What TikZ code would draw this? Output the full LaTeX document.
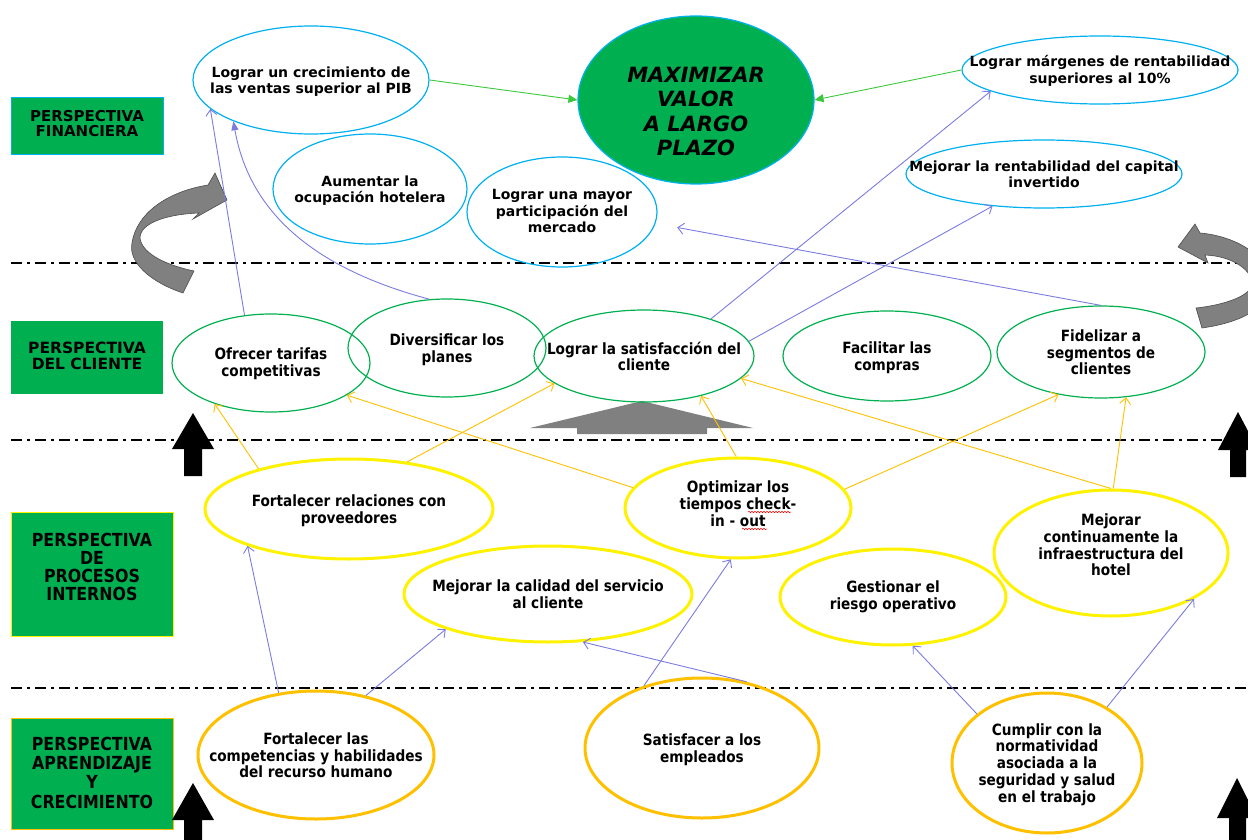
\documentclass[tikz,border=0pt]{standalone}
\usepackage{fontspec}
\setmainfont{DejaVu Sans}
\newfontfamily\widefont{DejaVu Sans}
\newfontfamily\narrowfont{DejaVu Sans}[FakeStretch=0.88]
\usetikzlibrary{arrows.meta,shapes.geometric,decorations.pathmorphing}

\definecolor{boxgreen}{HTML}{00B050}
\definecolor{finblue}{HTML}{00B0F0}
\definecolor{cligreen}{HTML}{00B050}
\definecolor{proyellow}{HTML}{FFF200}
\definecolor{aprorange}{HTML}{FFC000}
\definecolor{linkblue}{HTML}{7B7BE0}
\definecolor{linkorange}{HTML}{FFC000}
\definecolor{linkgreen}{HTML}{3CC83C}
\definecolor{arrowgray}{HTML}{808080}

% text of a goal, centred, with no size of its own (optional arg moves it up)
\newcommand{\goal}[2][-2.5pt]{\raisebox{\dimexpr#1-0.25em\relax}[0pt][0pt]{%
	\makebox[0pt]{\begin{tabular}{@{}c@{}}#2\end{tabular}}}}

\begin{document}
\begin{tikzpicture}[x=1pt,y=-1pt,
	persp/.style={rectangle, fill=boxgreen, inner sep=0pt},
	fin/.style={ellipse, draw=finblue, line width=1.2pt, inner sep=0pt,
		font=\widefont\bfseries\fontsize{14}{16.5}\selectfont},
	cli/.style={ellipse, draw=cligreen, line width=1.2pt, inner sep=0pt,
		font=\narrowfont\bfseries\fontsize{15.5}{16.5}\selectfont},
	pro/.style={ellipse, draw=proyellow, line width=3pt, inner sep=0pt,
		font=\narrowfont\bfseries\fontsize{15.5}{16.8}\selectfont},
	apr/.style={ellipse, draw=aprorange, line width=3pt, inner sep=0pt,
		font=\narrowfont\bfseries\fontsize{15.5}{16.8}\selectfont},
	divider/.style={line width=2.2pt, dash pattern=on 11pt off 5pt on 3pt off 5pt},
	bluelink/.style={draw=linkblue, line width=0.9pt, -{Straight Barb[length=6pt,width=11pt]}},
	orangelink/.style={draw=linkorange, line width=0.9pt, -{Straight Barb[length=6pt,width=11pt]}},
	greenlink/.style={draw=linkgreen, line width=0.9pt, -{Triangle[length=9pt,width=8pt]}},
	bigarrow/.style={fill=arrowgray, draw=black!70, line width=0.6pt},
	spell/.style={red, line width=0.5pt, decorate,
		decoration={snake, amplitude=0.8pt, segment length=3pt}}]
	\useasboundingbox (0,0) rectangle (1248,840);
	\clip (0,0) rectangle (1248,840);
	
	% Dash-dot lines between the perspectives
	\foreach \y in {263,440,688}
		\draw[divider] (11,\y) -- (1248,\y);
	
	% Perspective boxes on the left
	\node[persp, draw=finblue, minimum width=152pt, minimum height=57pt,
		font=\widefont\bfseries\fontsize{15}{15}\selectfont] (pfin) at (87,125.5)
		{\goal[0pt]{PERSPECTIVA\\FINANCIERA}};
	\node[persp, minimum width=152pt, minimum height=73pt,
		font=\widefont\bfseries\fontsize{15.5}{14}\selectfont] (pcli) at (87,357.5)
		{\goal[0pt]{PERSPECTIVA\\DEL CLIENTE}};
	\node[persp, draw=proyellow, minimum width=162pt, minimum height=124pt,
		font=\narrowfont\bfseries\fontsize{18}{16}\selectfont] (ppro) at (92,574)
		{\goal[5pt]{PERSPECTIVA\\DE\\PROCESOS\\INTERNOS}};
	\node[persp, draw=aprorange, minimum width=162pt, minimum height=111pt,
		font=\narrowfont\bfseries\fontsize{18}{19}\selectfont] (papr) at (92,773.5)
		{\goal[-2pt]{PERSPECTIVA\\APRENDIZAJE\\Y\\CRECIMIENTO}};
	
	% Grey block arrows
	\draw[bigarrow] (183,293) .. controls (150,282) and (128,262) .. (132,243)
		.. controls (136,215) and (165,192) .. (208,185) -- (215,173) -- (227,200)
		-- (193,219) -- (199,213) .. controls (170,214) and (140,222) .. (140,238)
		.. controls (142,255) and (170,266) .. (194,271) -- cycle;
	\draw[bigarrow] (1202,328) .. controls (1245,322) and (1272,305) .. (1270,282)
		.. controls (1268,255) and (1235,236) .. (1200,233) -- (1195,224) -- (1178,247)
		-- (1208,263) -- (1205,255) .. controls (1230,256) and (1250,268) .. (1252,282)
		.. controls (1254,295) and (1225,305) .. (1196,308) -- cycle;
	\fill[arrowgray] (530,428) -- (642,401) -- (753,428) -- (707,428) -- (707,434)
		-- (577,434) -- (577,428) -- cycle;
	
	% Black up arrows
	\fill (193,413) -- (214,449) -- (202,449) -- (202,476) -- (184,476) -- (184,449) -- (172,449) -- cycle;
	\fill (193,783) -- (214,820) -- (202,820) -- (202,840) -- (184,840) -- (184,820) -- (172,820) -- cycle;
	\fill (1238,412) -- (1258,450) -- (1246,450) -- (1246,477) -- (1230,477) -- (1230,450) -- (1218,450) -- cycle;
	\fill (1237,778) -- (1257,818) -- (1246,818) -- (1246,840) -- (1229,840) -- (1229,818) -- (1217,818) -- cycle;
	
	% Financial goals
	\node[fin, minimum width=236pt, minimum height=108pt] (ventas) at (311,80)
		{\goal{Lograr un crecimiento de\\las ventas superior al PIB}};
	\node[ellipse, fill=boxgreen, draw=finblue, line width=1.2pt, inner sep=0pt,
		minimum width=236pt, minimum height=168pt,
		font=\widefont\bfseries\itshape\fontsize{21}{24.6}\selectfont] (maximizar) at (696,100)
		{\goal[-14pt]{MAXIMIZAR\\VALOR\\A LARGO\\PLAZO}};
	\node[fin, minimum width=194pt, minimum height=110pt] (ocupacion) at (370,189)
		{\goal{Aumentar la\\ocupación hotelera}};
	\node[fin, minimum width=190pt, minimum height=110pt] (mercado) at (562,212)
		{\goal[-1pt]{Lograr una mayor\\participación del\\mercado}};
	\node[fin, minimum width=276pt, minimum height=68pt] (margenes) at (1100,70)
		{\goal[-2pt]{Lograr márgenes de rentabilidad\\superiores al 10\%}};
	\node[fin, minimum width=276pt, minimum height=68pt] (capital) at (1044,174)
		{\goal{Mejorar la rentabilidad del capital\\invertido}};
	
	% Customer goals
	\node[cli, minimum width=198pt, minimum height=98pt] (tarifas) at (271,363)
		{\goal[-1pt]{Ofrecer tarifas\\competitivas}};
	\node[cli, minimum width=198pt, minimum height=98pt] (planes) at (447,348)
		{\goal{Diversificar los\\planes}};
	\node[cli, minimum width=220pt, minimum height=92pt] (satisfaccion) at (644,356)
		{\goal{Lograr la satisfacción del\\cliente}};
	\node[cli, minimum width=208pt, minimum height=90pt] (compras) at (887,356)
		{\goal{Facilitar las\\compras}};
	\node[cli, minimum width=208pt, minimum height=92pt] (fidelizar) at (1101,352)
		{\goal{Fidelizar a\\segmentos de\\clientes}};
	
	% Internal process goals
	\node[pro, minimum width=288pt, minimum height=100pt] (proveedores) at (349,509)
		{\goal[-2pt]{Fortalecer relaciones con\\proveedores}};
	\node[pro, minimum width=226pt, minimum height=100pt] (checkin) at (738,508)
		{\goal[2pt]{Optimizar los\\tiempos check-\\in - out}};
	\node[pro, minimum width=288pt, minimum height=96pt] (calidad) at (548,594)
		{\goal[-2pt]{Mejorar la calidad del servicio\\al cliente}};
	\node[pro, minimum width=226pt, minimum height=96pt] (riesgo) at (893,597)
		{\goal[0pt]{Gestionar el\\riesgo operativo}};
	\node[pro, minimum width=234pt, minimum height=126pt] (infra) at (1111,553)
		{\goal[6pt]{Mejorar\\continuamente la\\infraestructura del\\hotel}};
	
	% Spelling marks under check / out
	\draw[spell] (748,512) -- (791,512);
	\draw[spell] (742,529) -- (767,529);
	
	% Learning and growth goals
	\node[apr, minimum width=236pt, minimum height=128pt] (competencias) at (316,755)
		{\goal{Fortalecer las\\competencias y habilidades\\del recurso humano}};
	\node[apr, minimum width=234pt, minimum height=140pt] (empleados) at (702,748)
		{\goal{Satisfacer a los\\empleados}};
	\node[apr, minimum width=190pt, minimum height=140pt] (normas) at (1047,763)
		{\goal[-2pt]{Cumplir con la\\normatividad\\asociada a la\\seguridad y salud\\en el trabajo}};
	
	% Links towards the top goal
	\draw[greenlink] (ventas.0) -- (maximizar.180);
	\draw[greenlink] (margenes.180) -- (maximizar.0);
	
	% Links from the customer goals
	\draw[bluelink] (tarifas.119) -- (ventas.196);
	\draw[draw=linkblue, line width=0.9pt, -{Triangle[length=9pt,width=7pt]}]
		(planes.110) to[out=165,in=280] (ventas.208);
	\draw[bluelink] (satisfaccion.29) -- (margenes.191);
	\draw[bluelink] (satisfaccion.8) -- (capital.212);
	\draw[bluelink, shorten >=22pt] (fidelizar.90) -- (mercado.353);
	
	% Links from the internal processes
	\draw[orangelink] (proveedores.156) -- (tarifas.216);
	\draw[orangelink] (proveedores.39) -- (satisfaccion.197);
	\draw[orangelink] (checkin.169) -- (tarifas.337);
	\draw[orangelink] (checkin.92) -- (satisfaccion.325);
	\draw[orangelink] (checkin.10) -- (fidelizar.225);
	\draw[orangelink] (infra.90) -- (satisfaccion.347);
	\draw[orangelink] (infra.88) -- (fidelizar.299);
	
	% Links from learning and growth
	\draw[bluelink] (competencias.121) -- (proveedores.200);
	\draw[bluelink] (competencias.50) -- (calidad.199);
	\draw[bluelink] (empleados.133) -- (checkin.262);
	\draw[bluelink] (empleados.56) -- (calidad.306);
	\draw[bluelink] (normas.145) -- (riesgo.292);
	\draw[bluelink] (normas.43) -- (infra.331);
\end{tikzpicture}
\end{document}
